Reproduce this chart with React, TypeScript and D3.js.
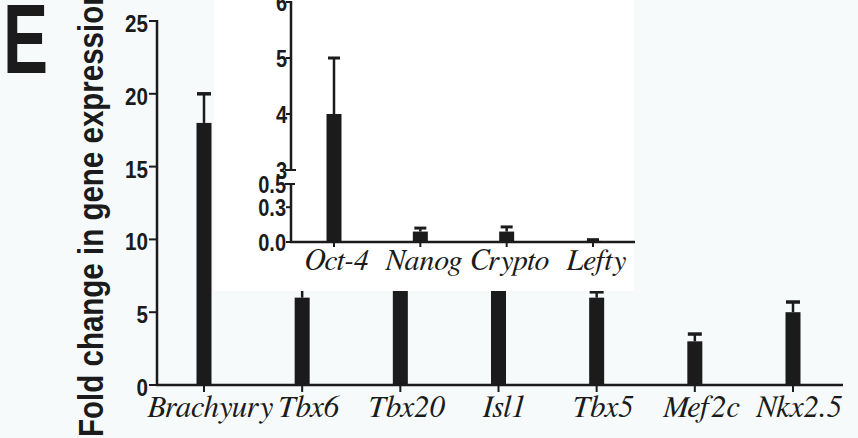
import React from "react";
import * as d3 from "d3";

const mainCategories = ["Brachyury", "Tbx6", "Tbx20", "Isl1", "Tbx5", "Mef2c", "Nkx2.5"];
const mainValues = [18, 6, 8, 8, 6, 3, 5];
const mainErrors = [2, 1, 1, 1, 0.4, 0.5, 0.7];
const mainTicks = [0, 5, 10, 15, 20, 25];

const insetCategories = ["Oct-4", "Nanog", "Crypto", "Lefty"];
const insetValues = [4, 0.09, 0.09, 0.01];
const insetErrors = [1, 0.03, 0.04, 0.01];
const insetUpperTicks = [3, 4, 5, 6];
const insetLowerTicks = [0.0, 0.3, 0.5];

const yTitle = "Fold change in gene expression";
const panelLetter = "E";

const W = 858;
const H = 438;
const INK = "#1b1b1b";
const SANS = "Liberation Sans, Arial, sans-serif";
const SERIF = "FreeSerif, Times New Roman";

export default function App() {
  const x = d3.scalePoint<string>().domain(mainCategories).range([204, 793]);
  const y = d3.scaleLinear().domain([0, 25]).range([385, 21]);
  const axisX0 = 157;
  const axisX1 = 843;
  const barW = 15;

  const xi = d3.scalePoint<string>().domain(insetCategories).range([334, 593]);
  const yiUp = d3.scaleLinear().domain([3, 6]).range([170, 2]);
  const yiLo = d3.scaleLinear().domain([0, 0.5]).range([242, 184]);
  const yi = (v: number) => (v >= 3 ? yiUp(v) : yiLo(Math.min(v, 0.5)));
  const iAxisX = 291;
  const iAxisX1 = 635;

  return (
    <svg
      width={W}
      height={H}
      style={{ position: "absolute", left: 0, top: 0 }}
    >
      <rect x={0} y={0} width={W} height={H} fill="#f6fafa" />

      <text transform="translate(3,73) scale(0.69,1)" fontFamily={SANS} fontWeight="bold" fontSize={98} fill={INK}>
        {panelLetter}
      </text>

      <text transform="translate(103,437) rotate(-90) scale(0.82,1)" fontFamily={SANS} fontWeight="bold" fontSize={36} fill={INK}>
        {yTitle}
      </text>

      {mainCategories.map((c, i) => {
        const cx = x(c)!;
        const top = y(mainValues[i]);
        const eTop = y(mainValues[i] + mainErrors[i]);
        return (
          <g key={c}>
            <line x1={cx} x2={cx} y1={top} y2={eTop} stroke={INK} strokeWidth={2.5} />
            <line x1={cx - 7} x2={cx + 7} y1={eTop} y2={eTop} stroke={INK} strokeWidth={3.5} />
            <rect x={cx - barW / 2} y={top} width={barW} height={y(0) - top} fill={INK} />
          </g>
        );
      })}

      <line x1={axisX0} x2={axisX0} y1={y(25) - 1} y2={y(0) + 1} stroke={INK} strokeWidth={2.5} />
      {mainTicks.map((t) => (
        <g key={t}>
          <line x1={axisX0 - 8} x2={axisX0} y1={y(t)} y2={y(t)} stroke={INK} strokeWidth={2} />
          <text
            transform={`translate(148,${y(t) + 11}) scale(0.86,1)`}
            textAnchor="end"
            fontFamily={SANS}
            fontWeight="bold"
            fontSize={24}
            fill={INK}
          >
            {t}
          </text>
        </g>
      ))}

      <line x1={axisX0 - 1} x2={axisX1} y1={y(0)} y2={y(0)} stroke={INK} strokeWidth={2.5} />
      {mainCategories.map((c) => (
        <g key={"t" + c}>
          <line x1={x(c)!} x2={x(c)!} y1={y(0)} y2={y(0) + 7} stroke={INK} strokeWidth={2} />
          <text x={x(c)! + 6} y={417} textAnchor="middle" fontFamily={SERIF} fontStyle="italic" fontSize={31} fill={INK}>
            {c}
          </text>
        </g>
      ))}

      <rect x={214} y={0} width={420} height={291} fill="#ffffff" />

      {insetCategories.map((c, i) => {
        const cx = xi(c)!;
        const top = yi(insetValues[i]);
        const eTop = yi(insetValues[i] + insetErrors[i]);
        return (
          <g key={c}>
            <line x1={cx} x2={cx} y1={top} y2={eTop} stroke={INK} strokeWidth={2.5} />
            <line x1={cx - 6} x2={cx + 6} y1={eTop} y2={eTop} stroke={INK} strokeWidth={3} />
            <rect x={cx - 7.5} y={top} width={15} height={yi(0) - top} fill={INK} />
          </g>
        );
      })}

      <line x1={iAxisX} x2={iAxisX} y1={yiUp(6) - 1} y2={yiUp(3)} stroke={INK} strokeWidth={2.5} />
      <line x1={iAxisX} x2={iAxisX} y1={yiLo(0.5)} y2={yiLo(0) + 1} stroke={INK} strokeWidth={2.5} />
      <line x1={iAxisX - 6} x2={iAxisX + 5} y1={yiUp(3)} y2={yiUp(3)} stroke={INK} strokeWidth={2} />
      <line x1={iAxisX - 6} x2={iAxisX + 4} y1={yiLo(0.5)} y2={yiLo(0.5)} stroke={INK} strokeWidth={2} />
      {insetUpperTicks.map((t) => (
        <g key={"u" + t}>
          <line x1={iAxisX - 5} x2={iAxisX} y1={yiUp(t)} y2={yiUp(t)} stroke={INK} strokeWidth={2} />
          <text
            transform={`translate(287,${yiUp(t) + 9}) scale(0.87,1)`}
            textAnchor="end"
            fontFamily={SANS}
            fontWeight="bold"
            fontSize={23}
            fill={INK}
          >
            {t}
          </text>
        </g>
      ))}
      {insetLowerTicks.map((t) => (
        <g key={"l" + t}>
          <line x1={iAxisX - 5} x2={iAxisX} y1={yiLo(t)} y2={yiLo(t)} stroke={INK} strokeWidth={2} />
          <text
            transform={`translate(286,${yiLo(t) + 9}) scale(0.87,1)`}
            textAnchor="end"
            fontFamily={SANS}
            fontWeight="bold"
            fontSize={23}
            fill={INK}
          >
            {t.toFixed(1)}
          </text>
        </g>
      ))}

      <line x1={iAxisX - 1} x2={iAxisX1} y1={yi(0)} y2={yi(0)} stroke={INK} strokeWidth={2.5} />
      {insetCategories.map((c) => (
        <g key={"it" + c}>
          <line x1={xi(c)!} x2={xi(c)!} y1={yi(0)} y2={yi(0) + 5} stroke={INK} strokeWidth={2} />
          <text x={xi(c)! + 3} y={270} textAnchor="middle" fontFamily={SERIF} fontStyle="italic" fontSize={30} fill={INK}>
            {c}
          </text>
        </g>
      ))}
    </svg>
  );
}
